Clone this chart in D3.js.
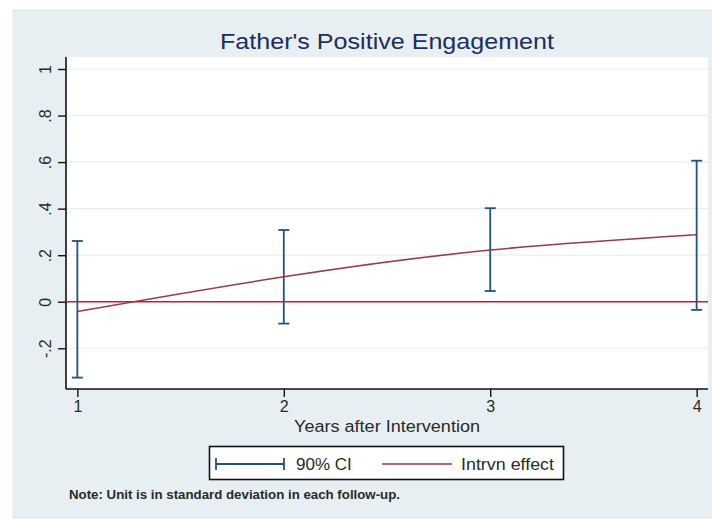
<!DOCTYPE html>
<html>
<head>
<meta charset="utf-8">
<script src="https://cdn.jsdelivr.net/npm/d3@7"></script>
<style>
  body { margin: 0; background: #ffffff; }
  text { font-family: "Liberation Sans", Arial, sans-serif; }
</style>
</head>
<body>
<div id="chart"></div>
<script>
// data
var years = [1, 2, 3, 4];
var effect = [-0.042, 0.107, 0.222, 0.288];
var ciLow = [-0.326, -0.094, 0.046, -0.035];
var ciHigh = [0.261, 0.308, 0.402, 0.606];
var yTicks = [-0.2, 0, 0.2, 0.4, 0.6, 0.8, 1];
var yTickLabels = ["-.2", "0", ".2", ".4", ".6", ".8", "1"];
var xTicks = [1, 2, 3, 4];
var legendLabels = ["90% CI", "Intrvn effect"];

var W = 712, H = 520;
// plotområdet
var plot = { left: 66, right: 708, top: 57, bottom: 389 };

var svg = d3.select("#chart")
  .append("svg")
  .attr("width", W)
  .attr("height", H);

// baggrund (graph region)
svg.append("rect")
  .attr("x", 12.5)
  .attr("y", 9)
  .attr("width", W - 12.5)
  .attr("height", 510)
  .attr("fill", "#e8eff2");

// hvid plot region
svg.append("rect")
  .attr("x", plot.left)
  .attr("y", plot.top)
  .attr("width", plot.right - plot.left)
  .attr("height", plot.bottom - plot.top)
  .attr("fill", "#ffffff");

var x = d3.scaleLinear()
  .domain([0.945, 4.055])
  .range([plot.left, plot.right]);

var y = d3.scaleLinear()
  .domain([-0.375, 1.0516])
  .range([plot.bottom, plot.top]);

// gitterlinjer
svg.append("g")
  .selectAll("line")
  .data(yTicks)
  .enter()
  .append("line")
  .attr("x1", plot.left)
  .attr("x2", plot.right)
  .attr("y1", function (d) { return y(d); })
  .attr("y2", function (d) { return y(d); })
  .attr("stroke", "#e6eef2")
  .attr("stroke-width", 1.2);

// Y-aksen
var yAxis = svg.append("g")
  .attr("transform", "translate(" + plot.left + ",0)")
  .call(d3.axisLeft(y)
    .tickValues(yTicks)
    .tickSize(8)
    .tickFormat(function (d, i) { return yTickLabels[i]; }));
yAxis.select(".domain")
  .attr("d", "M0," + plot.top + "V" + plot.bottom)
  .attr("stroke", "#111")
  .attr("stroke-width", 1.6);
yAxis.selectAll(".tick line").attr("stroke", "#111").attr("stroke-width", 1.4);
yAxis.selectAll(".tick text")
  .attr("x", null)
  .attr("dy", null)
  .attr("transform", "translate(-21,0) rotate(-90)")
  .attr("text-anchor", "middle")
  .attr("dy", "0.35em")
  .style("font-size", "16px")
  .style("fill", "#2a2a2a");

// X-aksen
var xAxis = svg.append("g")
  .attr("transform", "translate(0," + plot.bottom + ")")
  .call(d3.axisBottom(x)
    .tickValues(xTicks)
    .tickSize(8)
    .tickFormat(d3.format("d")));
xAxis.select(".domain")
  .attr("d", "M" + plot.left + ",0H" + plot.right)
  .attr("stroke", "#111")
  .attr("stroke-width", 1.6);
xAxis.selectAll(".tick line").attr("stroke", "#111").attr("stroke-width", 1.4);
xAxis.selectAll(".tick text")
  .attr("y", 12)
  .style("font-size", "16px")
  .style("fill", "#2a2a2a");

svg.selectAll(".tick text").style("font-family", "'Liberation Sans', Arial, sans-serif");

// nul-linjen
svg.append("line")
  .attr("x1", plot.left)
  .attr("x2", plot.right)
  .attr("y1", y(0))
  .attr("y2", y(0))
  .attr("stroke", "#d8123e")
  .attr("stroke-width", 1.6);

// konfidensintervaller
var ci = svg.append("g")
  .attr("stroke", "#24527f")
  .attr("stroke-width", 1.8);
years.forEach(function (yr, i) {
  ci.append("line")
    .attr("x1", x(yr)).attr("x2", x(yr))
    .attr("y1", y(ciLow[i])).attr("y2", y(ciHigh[i]));
  ci.append("line")
    .attr("x1", x(yr) - 5.5).attr("x2", x(yr) + 5.5)
    .attr("y1", y(ciLow[i])).attr("y2", y(ciLow[i]));
  ci.append("line")
    .attr("x1", x(yr) - 5.5).attr("x2", x(yr) + 5.5)
    .attr("y1", y(ciHigh[i])).attr("y2", y(ciHigh[i]));
});

// effekt-kurven
svg.append("path")
  .datum(years.map(function (yr, i) { return [yr, effect[i]]; }))
  .attr("fill", "none")
  .attr("stroke", "#9a3a44")
  .attr("stroke-width", 1.6)
  .attr("d", d3.line()
    .curve(d3.curveNatural)
    .x(function (d) { return x(d[0]); })
    .y(function (d) { return y(d[1]); })
  );

// titel
svg.append("text")
  .attr("x", (plot.left + plot.right) / 2)
  .attr("y", 49)
  .attr("text-anchor", "middle")
  .attr("textLength", 334)
  .attr("lengthAdjust", "spacingAndGlyphs")
  .style("font-size", "22px")
  .style("fill", "#1c2e5c")
  .text("Father's Positive Engagement");

// aksetitel
svg.append("text")
  .attr("x", (plot.left + plot.right) / 2)
  .attr("y", 432)
  .attr("text-anchor", "middle")
  .attr("textLength", 186)
  .attr("lengthAdjust", "spacingAndGlyphs")
  .style("font-size", "16px")
  .style("fill", "#2a2a2a")
  .text("Years after Intervention");

// legende
var legend = svg.append("g");
legend.append("rect")
  .attr("x", 209.5)
  .attr("y", 446.5)
  .attr("width", 354)
  .attr("height", 33)
  .attr("fill", "#ffffff")
  .attr("stroke", "#111")
  .attr("stroke-width", 1.6);

var ly = 464;
var ciSym = legend.append("g")
  .attr("stroke", "#24527f")
  .attr("stroke-width", 1.8);
ciSym.append("line").attr("x1", 216).attr("x2", 284).attr("y1", ly).attr("y2", ly);
ciSym.append("line").attr("x1", 216).attr("x2", 216).attr("y1", ly - 6).attr("y2", ly + 6);
ciSym.append("line").attr("x1", 284).attr("x2", 284).attr("y1", ly - 6).attr("y2", ly + 6);

legend.append("text")
  .attr("x", 296)
  .attr("y", ly + 6)
  .style("font-size", "17px")
  .style("fill", "#2a2a2a")
  .text(legendLabels[0]);

legend.append("line")
  .attr("x1", 382).attr("x2", 452)
  .attr("y1", ly).attr("y2", ly)
  .attr("stroke", "#9a3a44")
  .attr("stroke-width", 1.6);

legend.append("text")
  .attr("x", 461)
  .attr("y", ly + 6)
  .attr("textLength", 93)
  .attr("lengthAdjust", "spacingAndGlyphs")
  .style("font-size", "17px")
  .style("fill", "#2a2a2a")
  .text(legendLabels[1]);

// note
svg.append("text")
  .attr("x", 69)
  .attr("y", 499)
  .attr("textLength", 331)
  .attr("lengthAdjust", "spacingAndGlyphs")
  .style("font-size", "12px")
  .style("font-weight", "bold")
  .style("fill", "#2a2a2a")
  .text("Note: Unit is in standard deviation in each follow-up.");
</script>
</body>
</html>
